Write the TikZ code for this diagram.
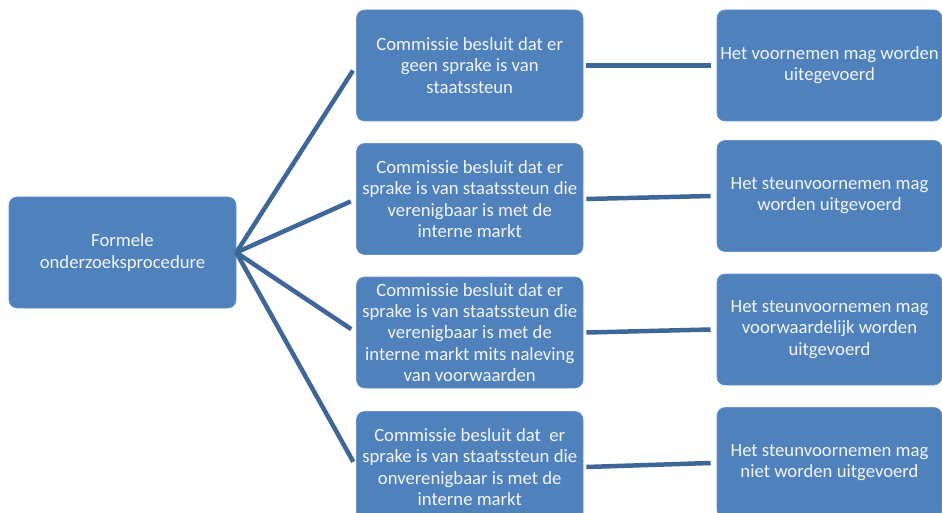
\documentclass[tikz,border=0pt]{standalone}
\usepackage{fontspec}
\setmainfont{Carlito}
\definecolor{boxblue}{HTML}{4F81BD}
\definecolor{lineblue}{HTML}{3E6799}
\definecolor{boxtext}{HTML}{F4F6FA}
\begin{document}
\begin{tikzpicture}[x=1pt,y=1pt,
  box/.style={fill=boxblue, draw=boxblue!85!white, line width=0.6pt, rounded corners=8pt,
    minimum height=111pt, inner sep=0pt, align=center, text=boxtext,
    font=\fontsize{18.7}{21.2}\selectfont},
  midbox/.style={box, minimum width=226.5pt},
  rightbox/.style={box, minimum width=225pt},
  conn/.style={draw=lineblue, line width=4.5pt}]
\useasboundingbox (0,0) rectangle (942,-513);
\node[box, minimum width=227pt] (L) at (122.5,-252.5) {Formele\\onderzoeksprocedure};
\node[midbox] (m1) at (469.75,-65.5) {Commissie besluit dat er\\geen sprake is van\\staatssteun};
\node[midbox] (m2) at (469.75,-199) {Commissie besluit dat er\\sprake is van staatssteun die\\verenigbaar is met de\\interne markt};
\node[midbox] (m3) at (469.75,-332.5) {Commissie besluit dat er\\sprake is van staatssteun die\\verenigbaar is met de\\interne markt mits naleving\\van voorwaarden};
\node[midbox] (m4) at (469.75,-467) {Commissie besluit dat\ \ er\\sprake is van staatssteun die\\onverenigbaar is met de\\interne markt};
\node[rightbox] (r1) at (829.5,-65.5) {Het voornemen mag worden\\uitegevoerd};
\node[rightbox] (r2) at (829.5,-196) {Het steunvoornemen mag\\worden uitgevoerd};
\node[rightbox] (r3) at (829.5,-329.5) {Het steunvoornemen mag\\voorwaardelijk worden\\uitgevoerd};
\node[rightbox] (r4) at (829.5,-463) {Het steunvoornemen mag\\niet worden uitgevoerd};
\foreach \i in {1,2,3,4}{
  \draw[conn, shorten >=6pt] (L.east) -- (m\i.west);
  \draw[conn] ([xshift=3pt]m\i.east) -- ([xshift=-6pt]r\i.west);
}
\end{tikzpicture}
\end{document}
